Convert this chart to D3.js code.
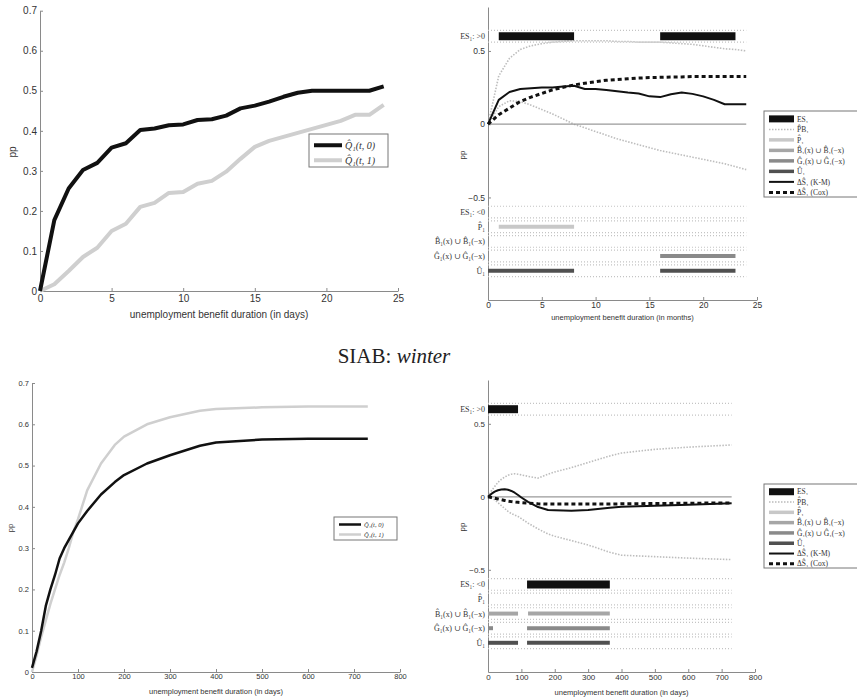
<!DOCTYPE html>
<html><head><meta charset="utf-8">
<script src="https://cdn.jsdelivr.net/npm/d3@7"></script>
<style>body{margin:0;background:#fff;} svg{display:block}</style>
</head><body>
<svg id="c" width="857" height="697"></svg>
<script>
// ---------------- DATA ----------------
// Top-left panel
const tlX = [0,1,2,3,4,5,6,7,8,9,10,11,12,13,14,15,16,17,18,19,20,21,22,23,24];
const tlQ0 = [0,0.177,0.256,0.302,0.32,0.358,0.369,0.402,0.406,0.414,0.416,0.427,0.429,0.438,0.456,0.463,0.473,0.485,0.495,0.5,0.5,0.5,0.5,0.5,0.511];
const tlQ1 = [0,0.017,0.05,0.085,0.108,0.15,0.168,0.21,0.22,0.245,0.247,0.268,0.275,0.298,0.33,0.36,0.375,0.385,0.395,0.405,0.415,0.425,0.44,0.44,0.465];
const tlLegend = ["Q̂₁(t, 0)", "Q̂₁(t, 1)"];
const tlXTicks = [0,5,10,15,20,25];
const tlYTicks = [0,0.1,0.2,0.3,0.4,0.5,0.6,0.7];

// Top-right panel
const trX = [0,1,2,3,4,5,6,7,8,9,10,11,12,13,14,15,16,17,18,19,20,21,22,23,24];
const trKM = [0,0.166,0.22,0.24,0.245,0.25,0.25,0.257,0.262,0.24,0.24,0.234,0.225,0.216,0.21,0.19,0.185,0.205,0.216,0.207,0.19,0.166,0.136,0.136,0.136];
const trCox = [0,0.065,0.11,0.155,0.185,0.21,0.235,0.252,0.268,0.28,0.29,0.3,0.305,0.31,0.315,0.318,0.32,0.322,0.323,0.325,0.325,0.325,0.325,0.325,0.325];
const trUp = [0,0.33,0.45,0.51,0.535,0.55,0.56,0.565,0.57,0.57,0.57,0.57,0.565,0.565,0.56,0.56,0.56,0.555,0.55,0.545,0.535,0.525,0.515,0.51,0.5];
const trLo = [0,0.12,0.16,0.155,0.13,0.1,0.07,0.035,0,-0.025,-0.05,-0.075,-0.1,-0.12,-0.14,-0.16,-0.18,-0.195,-0.21,-0.225,-0.24,-0.255,-0.27,-0.29,-0.31];
const trXTicks = [0,5,10,15,20,25];
// bars: [rowIndex, start, end]
const trBars = [[0,1,8],[0,16,23],[2,1,8],[4,16,23],[5,0,8],[5,16,23]];

// Bottom-left panel
const blX = [0,10,20,30,40,50,60,70,80,90,100,120,150,180,200,250,300,365,400,500,600,730];
const blQ0 = [0.01,0.05,0.1,0.16,0.2,0.235,0.275,0.3,0.32,0.34,0.36,0.39,0.43,0.46,0.477,0.505,0.525,0.548,0.556,0.563,0.565,0.565];
const blQ1 = [0,0.04,0.085,0.125,0.165,0.2,0.235,0.265,0.3,0.34,0.37,0.44,0.505,0.55,0.57,0.6,0.617,0.633,0.637,0.641,0.643,0.643];
const blXTicks = [0,100,200,300,400,500,600,700,800];

// Bottom-right panel
const brX = [0,10,20,30,40,50,60,70,80,90,100,120,150,180,200,250,300,365,400,500,600,730];
const brKM = [0,0.02,0.035,0.045,0.05,0.052,0.048,0.04,0.028,0.012,-0.005,-0.035,-0.07,-0.09,-0.092,-0.095,-0.09,-0.075,-0.068,-0.062,-0.055,-0.045];
const brCox = [0,-0.005,-0.01,-0.015,-0.02,-0.025,-0.03,-0.033,-0.036,-0.038,-0.04,-0.044,-0.048,-0.05,-0.05,-0.05,-0.05,-0.05,-0.048,-0.046,-0.044,-0.042];
const brUp = [0,0.04,0.07,0.1,0.12,0.135,0.148,0.155,0.158,0.155,0.15,0.14,0.128,0.155,0.17,0.2,0.235,0.28,0.3,0.325,0.34,0.355];
const brLo = [0,-0.01,-0.02,-0.04,-0.06,-0.08,-0.1,-0.115,-0.125,-0.135,-0.15,-0.18,-0.22,-0.255,-0.27,-0.3,-0.33,-0.38,-0.4,-0.41,-0.42,-0.43];
const brBars = [[0,0,90],[1,117,365],[3,0,90],[3,120,365],[4,0,15],[4,117,365],[5,0,90],[5,117,365]];

// shared for right panels
const rowLabels = ["ES₁: >0","ES₁: <0","P̂₁","B̂₁(x) ∪ B̂₁(−x)","Ĝ₁(x) ∪ Ĝ₁(−x)","Û₁"];
const rowValues = [0.6,-0.6,-0.7,-0.8,-0.9,-1.0];
const rightYTicks = [-0.5,0,0.5];
const rightLegend = ["ES₁","P̂B₁","P̂₁","B̂₁(x) ∪ B̂₁(−x)","Ĝ₁(x) ∪ Ĝ₁(−x)","Û₁","ΔŜ₁ (K-M)","ΔŜ₁ (Cox)"];

// ---------------- STYLE ----------------
const sans = "'Liberation Sans', Arial, sans-serif";
const serif = "'Liberation Serif', 'DejaVu Serif', serif";
const axisCol = "#8a8a8a", textCol = "#333";
const rowColors = ["#111","#111","#c8c8c8","#a6a6a6","#8a8a8a","#505050"];
const legendStyles = [
  {c:"#111", w:7},
  {c:"#bbb", w:1.5, d:"1.5,1.5"},
  {c:"#c8c8c8", w:3.5},
  {c:"#a6a6a6", w:3.5},
  {c:"#8a8a8a", w:3.5},
  {c:"#505050", w:3.5},
  {c:"#111", w:2},
  {c:"#111", w:3, d:"4,3"}
];

const svg = d3.select("#c");

function axes(x, y, xt, yt, fs, yfmt, xpad) {
  const g = svg.append("g");
  const ax = d3.axisBottom(x).tickValues(xt).tickSizeInner(-3).tickSizeOuter(0).tickPadding(xpad).tickFormat(d3.format("d"));
  const ay = d3.axisLeft(y).tickValues(yt).tickSizeInner(-3).tickSizeOuter(0).tickPadding(3).tickFormat(yfmt);
  const gx = g.append("g").attr("transform", `translate(0,${y.range()[0]})`).call(ax);
  const gy = g.append("g").attr("transform", `translate(${x.range()[0]},0)`).call(ay);
  [gx, gy].forEach(a => {
    a.selectAll("path,line").attr("stroke", axisCol).attr("stroke-width", 1);
    a.selectAll("text").attr("fill", textCol).style("font-family", sans).style("font-size", fs + "px");
  });
  return g;
}

function line(x, y, xs, ys, color, width, dash) {
  const gen = d3.line().x((d,i) => x(xs[i])).y(d => y(d));
  svg.append("path").datum(ys).attr("d", gen).attr("fill","none")
    .attr("stroke", color).attr("stroke-width", width)
    .attr("stroke-linejoin","round")
    .attr("stroke-dasharray", dash || null);
}

function legend(x0, y0, w, h, labels, styles, fs, rowH, sampleLen, italic) {
  const g = svg.append("g");
  g.append("rect").attr("x", x0).attr("y", y0).attr("width", w).attr("height", h)
    .attr("fill", "#fff").attr("stroke", "#777").attr("stroke-width", 1);
  labels.forEach((lab, i) => {
    const yy = y0 + rowH * 0.75 + i * rowH;
    const s = styles[i];
    g.append("line").attr("x1", x0 + 5).attr("x2", x0 + 5 + sampleLen).attr("y1", yy).attr("y2", yy)
      .attr("stroke", s.c).attr("stroke-width", s.w).attr("stroke-dasharray", s.d || null);
    g.append("text").attr("x", x0 + 8 + sampleLen).attr("y", yy + fs * 0.35).text(lab)
      .attr("fill", textCol).style("font-family", serif).style("font-size", fs + "px")
      .style("font-style", italic ? "italic" : "normal");
  });
}

function xTitle(cx, cy, txt, fs) {
  svg.append("text").attr("x", cx).attr("y", cy).attr("text-anchor","middle").text(txt)
    .attr("fill", textCol).style("font-family", sans).style("font-size", fs + "px");
}
function yTitle(cx, cy, txt, fs) {
  svg.append("text").attr("transform", `translate(${cx},${cy}) rotate(-90)`).attr("text-anchor","middle").text(txt)
    .attr("fill", textCol).style("font-family", sans).style("font-size", fs + "px");
}

const f1 = d => d === 0 ? "0" : d3.format(".1f")(d);

// ---------------- PANEL 1 (top-left) ----------------
{
  const x = d3.scaleLinear([0,25],[40,398]);
  const y = d3.scaleLinear([0,0.7],[291,10.7]);
  axes(x, y, tlXTicks, tlYTicks, 10, f1, 4);
  line(x, y, tlX, tlQ1, "#cfcfcf", 4);
  line(x, y, tlX, tlQ0, "#111", 4);
  xTitle(219, 318, "unemployment benefit duration (in days)", 10);
  yTitle(16, 152, "pp", 10);
  legend(309, 134, 79, 33, tlLegend, [{c:"#111",w:4},{c:"#cfcfcf",w:4}], 10, 15, 28, true);
}

// right-panel builder
function rightPanel(x, y, xs, km, cox, up, lo, bars, xEnd, xt, fsTick, title, titleY, ylabY) {
  axes(x, y, xt, rightYTicks, fsTick, f1, 2);
  // dotted row guides
  rowValues.forEach(v => {
    [v + 0.04, v - 0.04].forEach(w => {
      svg.append("line").attr("x1", x(0)).attr("x2", x(xEnd)).attr("y1", y(w)).attr("y2", y(w))
        .attr("stroke", "#c4c4c4").attr("stroke-width", 1.2).attr("stroke-dasharray", "1,2");
    });
  });
  // row labels
  rowValues.forEach((v, i) => {
    svg.append("text").attr("x", x(0) - 3).attr("y", y(v) + 3).attr("text-anchor","end")
      .text(rowLabels[i]).attr("fill", textCol).style("font-family", serif).style("font-size", "8px");
  });
  // CI bands
  line(x, y, xs, up, "#bdbdbd", 1.6, "1.5,1.5");
  line(x, y, xs, lo, "#bdbdbd", 1.6, "1.5,1.5");
  // bars
  bars.forEach(b => {
    const r = b[0];
    const big = r < 2;
    svg.append("line").attr("x1", x(b[1])).attr("x2", x(b[2])).attr("y1", y(rowValues[r])).attr("y2", y(rowValues[r]))
      .attr("stroke", rowColors[r]).attr("stroke-width", big ? 8 : 4);
  });
  // zero line
  svg.append("line").attr("x1", x(0)).attr("x2", x(xEnd)).attr("y1", y(0)).attr("y2", y(0))
    .attr("stroke", "#9a9a9a").attr("stroke-width", 1.2);
  line(x, y, xs, km, "#111", 2);
  line(x, y, xs, cox, "#111", 3, "4,3");
  xTitle((x.range()[0] + x.range()[1]) / 2, titleY, title, 7.5);
  yTitle(465, ylabY, "pp", 8);
}

// ---------------- PANEL 2 (top-right) ----------------
{
  const x = d3.scaleLinear([0,25],[488,757]);
  const y = d3.scaleLinear([-1.2,0.8],[300,7]);
  rightPanel(x, y, trX, trKM, trCox, trUp, trLo, trBars, 24, trXTicks, 8.5,
    "unemployment benefit duration (in months)", 320, 155);
  legend(764, 111, 100, 86, rightLegend, legendStyles, 7.5, 10.5, 25, false);
}

// ---------------- PANEL 3 (bottom-left) ----------------
{
  const x = d3.scaleLinear([0,800],[32,400]);
  const y = d3.scaleLinear([0,0.7],[672,383]);
  axes(x, y, blXTicks, tlYTicks, 7.5, f1, 2);
  line(x, y, blX, blQ1, "#cfcfcf", 2.5);
  line(x, y, blX, blQ0, "#111", 2.5);
  xTitle(216, 694, "unemployment benefit duration (in days)", 7.5);
  yTitle(13, 528, "pp", 7.5);
  legend(334, 517, 63, 23, tlLegend, [{c:"#111",w:2.5},{c:"#cfcfcf",w:2.5}], 6.5, 10, 22, true);
}

// ---------------- PANEL 4 (bottom-right) ----------------
{
  const x = d3.scaleLinear([0,800],[488,755]);
  const y = d3.scaleLinear([-1.2,0.8],[672,380]);
  rightPanel(x, y, brX, brKM, brCox, brUp, brLo, brBars, 730, blXTicks, 8,
    "unemployment benefit duration (in days)", 695, 527);
  legend(764, 484, 100, 84, rightLegend, legendStyles, 7.5, 10.3, 25, false);
}

// ---------------- Title ----------------
{
  const t = svg.append("text").attr("x", 394).attr("y", 363).attr("text-anchor","middle")
    .attr("fill", "#222").style("font-family", serif).style("font-size", "21px");
  t.append("tspan").text("SIAB: ");
  t.append("tspan").style("font-style","italic").text("winter");
}
</script>
</body></html>
